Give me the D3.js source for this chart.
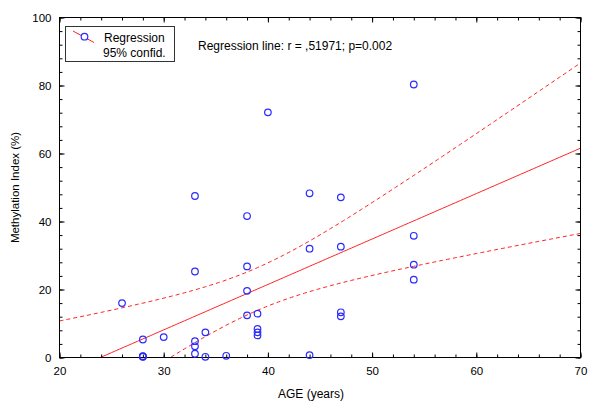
<!DOCTYPE html>
<html><head><meta charset="utf-8">
<script src="https://cdn.jsdelivr.net/npm/d3@7"></script>
<style>
body{margin:0;background:#fff}
text{font-family:Arial,"Liberation Sans",sans-serif;font-size:11px;fill:#000}
</style>
</head><body>
<svg id="chart" width="600" height="410"></svg>
<script>
// ---- data ----
const ages = [26, 28, 28, 28, 28, 30, 33, 33, 33, 33, 33, 34, 34, 36, 38, 38, 38, 38, 39, 39, 39, 39, 40, 44, 44, 44, 47, 47, 47, 47, 54, 54, 54, 54];
const methylation = [16.0, 5.3, 0.3, 0.2, 0.4, 6.0, 47.5, 25.3, 4.8, 3.3, 1.1, 7.4, 0.2, 0.5, 41.6, 26.8, 19.6, 12.4, 12.9, 8.4, 7.4, 6.5, 72.1, 48.3, 32.0, 0.7, 47.1, 32.6, 13.3, 12.1, 80.3, 35.8, 27.3, 22.9];
const xTicks = [20, 30, 40, 50, 60, 70];
const yTicks = [0, 20, 40, 60, 80, 100];
const xLabel = "AGE (years)";
const yLabel = "Methylation Index (%)";
const legendLabels = ["Regression", "95% confid."];
const annotation = "Regression line: r = ,51971; p=0.002";
const tCrit = 2.04; // Student t, 95%, df ≈ n-2

// ---- layout ----
const svg = d3.select("#chart");
const L = 59.5, R = 580.5, T = 17.5, B = 357.5;
const x = d3.scaleLinear().domain([20, 70]).range([L, R]);
const y = d3.scaleLinear().domain([0, 100]).range([B, T]);

// ---- regression from data ----
const pts = ages.map((a, i) => ({x: a, y: methylation[i]}));
const n = pts.length;
const mx = d3.mean(ages), my = d3.mean(methylation);
const sxx = d3.sum(ages, a => (a - mx) ** 2);
const sxy = d3.sum(pts, p => (p.x - mx) * (p.y - my));
const slope = sxy / sxx, icpt = my - slope * mx;
const sse = d3.sum(pts, p => (p.y - (icpt + slope * p.x)) ** 2);
const s = Math.sqrt(sse / (n - 2));
const xs = d3.range(20, 70.001, 0.25);
const fit = xs.map(v => ({x: v, y: icpt + slope * v}));
const hw = v => tCrit * s * Math.sqrt(1 / n + (v - mx) ** 2 / sxx);
const upper = xs.map(v => ({x: v, y: icpt + slope * v + hw(v)}));
const lower = xs.map(v => ({x: v, y: icpt + slope * v - hw(v)}));

svg.append("defs").append("clipPath").attr("id", "clip")
  .append("rect").attr("x", L).attr("y", T).attr("width", R - L).attr("height", B - T);

const line = d3.line().x(d => x(d.x)).y(d => y(d.y));
const g = svg.append("g").attr("clip-path", "url(#clip)");
g.append("path").datum(fit).attr("d", line).attr("fill", "none").attr("stroke", "#ff2020").attr("stroke-width", 1);
[upper, lower].forEach(c => g.append("path").datum(c).attr("d", line).attr("fill", "none")
  .attr("stroke", "#ff2020").attr("stroke-width", 1).attr("stroke-dasharray", "4,3"));

// ---- axes (ticks inward on all four sides) ----
const xMinor = d3.range(20, 70.001, 2);
const yMinor = d3.range(0, 100.001, 4);
function axis(gen, scale, ticks, len, transform) {
  const a = svg.append("g").attr("transform", transform)
    .call(gen(scale).tickValues(ticks).tickSize(len).tickFormat(""));
  a.select(".domain").remove();
  a.selectAll("line").attr("stroke", "#000");
  return a;
}
axis(d3.axisTop, x, xMinor, 3, `translate(0,${B})`);
axis(d3.axisTop, x, xTicks, 5, `translate(0,${B})`);
axis(d3.axisBottom, x, xMinor, 3, `translate(0,${T})`);
axis(d3.axisBottom, x, xTicks, 5, `translate(0,${T})`);
axis(d3.axisRight, y, yMinor, 3, `translate(${L},0)`);
axis(d3.axisRight, y, yTicks, 5, `translate(${L},0)`);
axis(d3.axisLeft, y, yMinor, 3, `translate(${R},0)`);
axis(d3.axisLeft, y, yTicks, 5, `translate(${R},0)`);

// tick labels
const xl = svg.append("g").attr("transform", `translate(0,${B})`)
  .call(d3.axisBottom(x).tickValues(xTicks).tickSize(0).tickPadding(9));
xl.select(".domain").remove();
xl.selectAll("text").style("font-size", "11.5px").style("font-family", "Arial,'Liberation Sans',sans-serif").attr("fill", "#000");
const yl = svg.append("g").attr("transform", `translate(${L},0)`)
  .call(d3.axisLeft(y).tickValues(yTicks).tickSize(0).tickPadding(8));
yl.select(".domain").remove();
yl.selectAll("text").style("font-size", "11.5px").style("font-family", "Arial,'Liberation Sans',sans-serif").attr("fill", "#000");

// frame
svg.append("rect").attr("x", L).attr("y", T).attr("width", R - L).attr("height", B - T)
  .attr("fill", "none").attr("stroke", "#000").attr("stroke-width", 1);

// ---- points ----
svg.append("g").selectAll("circle").data(pts).join("circle")
  .attr("cx", d => x(d.x)).attr("cy", d => y(d.y)).attr("r", 3.3)
  .attr("fill", "none").attr("stroke", "#2a2aff").attr("stroke-width", 1.2);

// ---- axis titles ----
svg.append("text").attr("x", 311).attr("y", 398).attr("text-anchor", "middle")
  .style("font-size", "12px").text(xLabel);
svg.append("text").attr("transform", `translate(19,${(T + B) / 2}) rotate(-90)`)
  .attr("text-anchor", "middle").style("font-size", "11.5px").text(yLabel);

// ---- legend ----
const lg = svg.append("g");
lg.append("rect").attr("x", 65.5).attr("y", 26.5).attr("width", 109).attr("height", 35)
  .attr("fill", "#fff").attr("stroke", "#333").attr("stroke-width", 1);
lg.append("line").attr("x1", 73).attr("y1", 31).attr("x2", 94).attr("y2", 42.5)
  .attr("stroke", "#ff2020").attr("stroke-width", 1);
lg.append("circle").attr("cx", 84.5).attr("cy", 36.7).attr("r", 3.3)
  .attr("fill", "#fff").attr("stroke", "#2a2aff").attr("stroke-width", 1.2);
lg.append("text").attr("x", 104).attr("y", 41.5).style("font-size", "12px").text(legendLabels[0]);
lg.append("text").attr("x", 103).attr("y", 56.5).style("font-size", "12px").text(legendLabels[1]);

// annotation
svg.append("text").attr("x", 198).attr("y", 50).style("font-size", "12px").text(annotation);
</script>
</body></html>
